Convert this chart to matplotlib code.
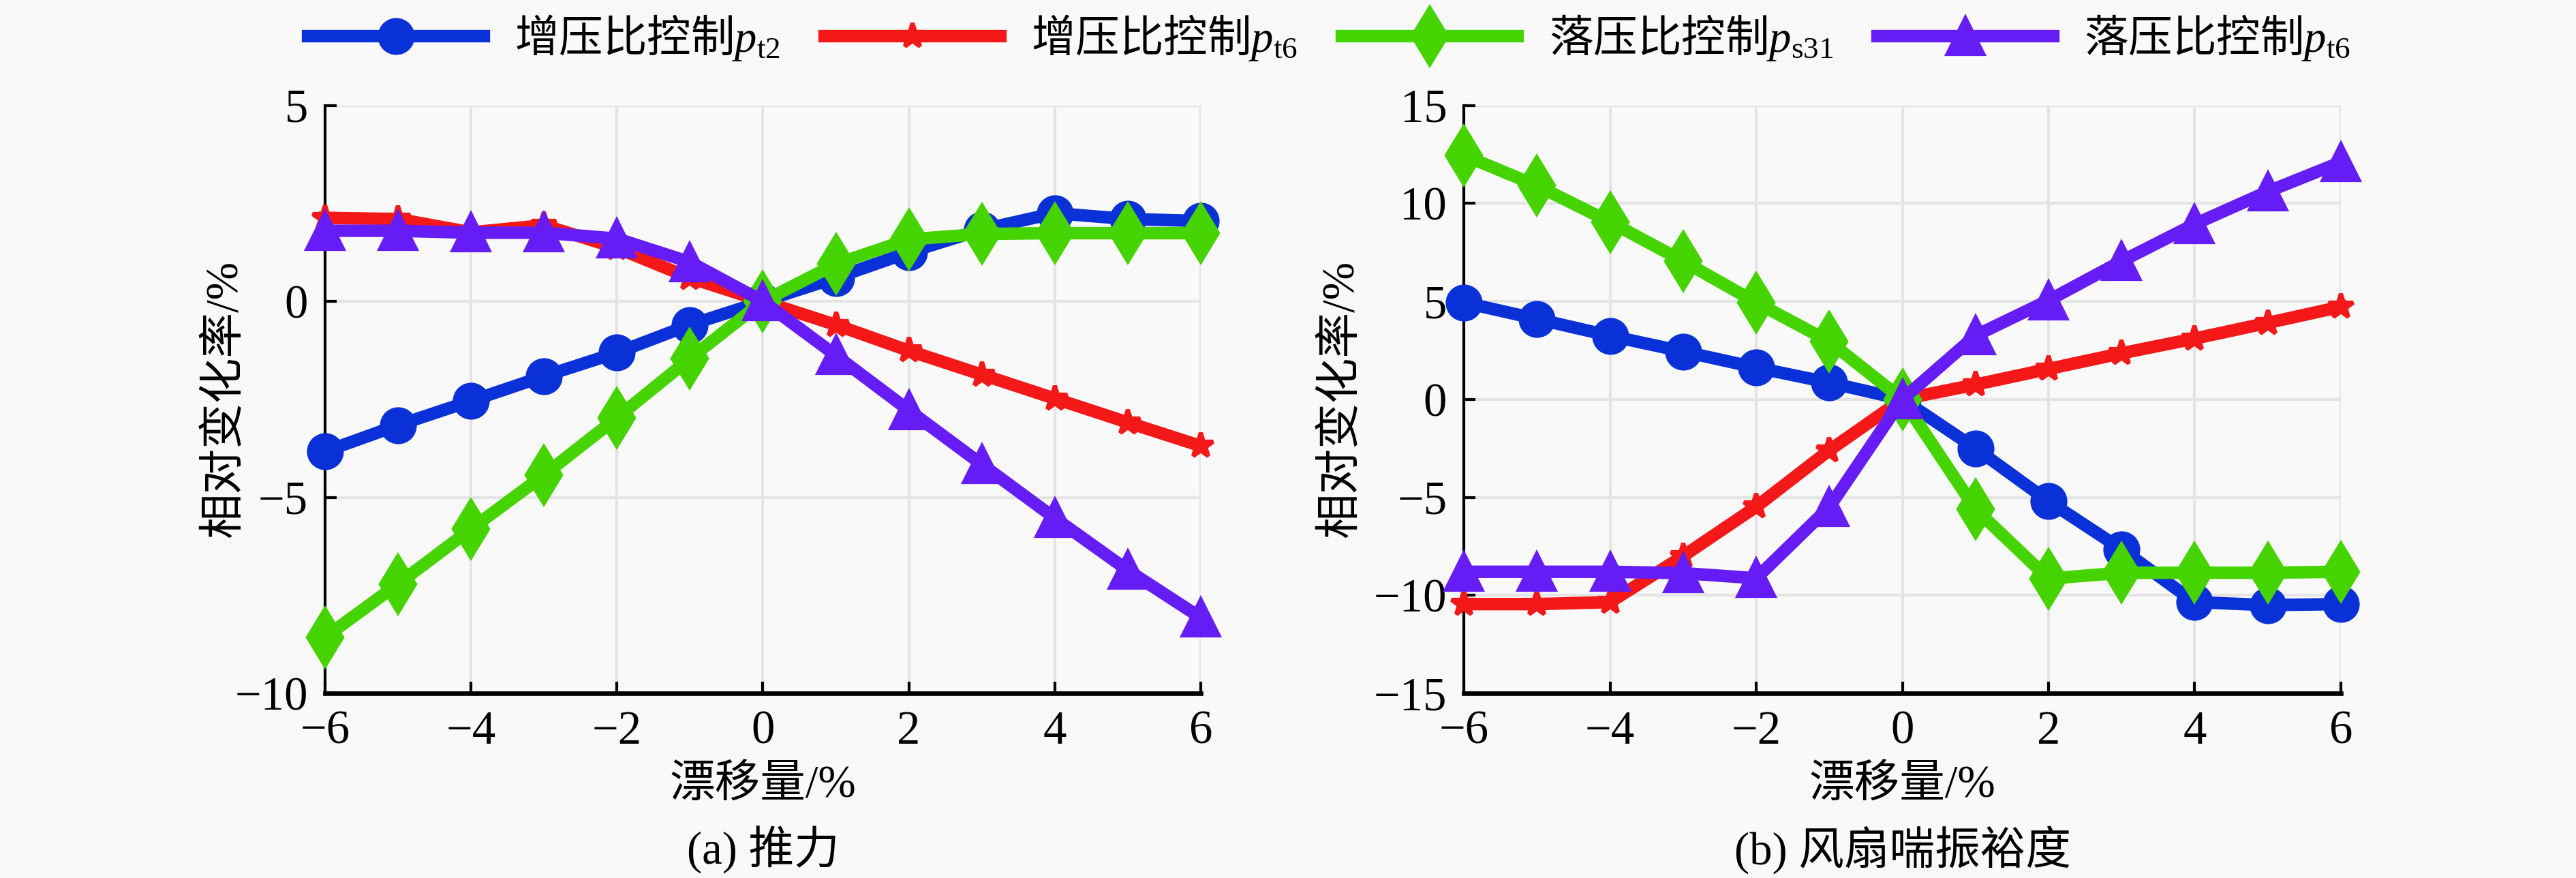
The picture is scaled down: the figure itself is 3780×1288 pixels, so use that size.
import matplotlib
matplotlib.use('Agg')
import matplotlib.pyplot as plt

plt.rcParams['font.family'] = ['Liberation Serif', 'Noto Sans CJK SC']
plt.rcParams['mathtext.fontset'] = 'custom'
plt.rcParams['mathtext.rm'] = 'Liberation Serif'
plt.rcParams['mathtext.it'] = 'Liberation Serif:italic'
plt.rcParams['axes.unicode_minus'] = True

# 数据
drift = [-6, -5, -4, -3, -2, -1, 0, 1, 2, 3, 4, 5, 6]

labels = [r'增压比控制$p_{\rm t2}$', r'增压比控制$p_{\rm t6}$',
          r'落压比控制$p_{\rm s31}$', r'落压比控制$p_{\rm t6}$']

# (a) 推力
thrust_pt2 = [-3.83, -3.16, -2.54, -1.91, -1.31, -0.6, 0, 0.6, 1.25, 1.83, 2.25, 2.1, 2.05]
thrust_pt6 = [2.13, 2.1, 1.76, 1.94, 1.36, 0.6, 0, -0.6, -1.26, -1.87, -2.48, -3.09, -3.69]
thrust_ps31 = [-8.57, -7.21, -5.81, -4.43, -2.97, -1.46, 0, 0.95, 1.58, 1.72, 1.74, 1.74, 1.74]
thrust_pt6d = [1.8, 1.8, 1.75, 1.75, 1.6, 1.0, 0, -1.38, -2.78, -4.16, -5.53, -6.86, -8.07]

# (b) 风扇喘振裕度
surge_pt2 = [4.94, 4.1, 3.24, 2.44, 1.62, 0.85, 0, -2.5, -5.2, -7.65, -10.35, -10.5, -10.45]
surge_pt6 = [-10.45, -10.45, -10.35, -8.0, -5.48, -2.6, 0, 0.75, 1.55, 2.35, 3.1, 3.9, 4.72]
surge_ps31 = [12.45, 10.9, 9.05, 7.05, 4.94, 2.95, 0, -5.6, -9.15, -8.85, -8.85, -8.85, -8.8]
surge_pt6d = [-8.8, -8.8, -8.8, -8.87, -9.13, -5.5, 0, 3.25, 5.05, 7.05, 8.94, 10.6, 12.1]

colors = ['#0a30d8', '#f41818', '#46d400', '#661cf4']
markers = ['o', '*', 'd', '^']
msizes = [11.5, 9, 14, 12.5]

bg = '#f9f9f9'
fs = 16.5
fig = plt.figure(figsize=(12.6, 1288 / 300), dpi=300, facecolor=bg)

ax1 = fig.add_axes([0.1262, 0.2104, 0.3399, 0.6696])
ax2 = fig.add_axes([0.5683, 0.2104, 0.3404, 0.6696])


def draw(ax, series, ylim, yticks, caption, ypad):
    ax.set_facecolor(bg)
    handles = []
    for ys, c, m, ms, lab in zip(series, colors, markers, msizes, labels):
        h, = ax.plot(drift, ys, color=c, lw=4.4, marker=m, markersize=ms,
                     markerfacecolor=c, markeredgecolor=c, markeredgewidth=1.5,
                     label=lab, clip_on=False, zorder=3)
        handles.append(h)
    ax.set_xlim(-6, 6)
    ax.set_ylim(*ylim)
    ax.set_xticks(range(-6, 7, 2))
    ax.set_yticks(yticks)
    ax.grid(True, color='#e4e4e4', lw=1.0)
    ax.set_axisbelow(True)
    for s in ['top', 'right']:
        ax.spines[s].set_visible(False)
    ax.spines['left'].set_linewidth(1.0)
    ax.spines['bottom'].set_linewidth(1.6)
    ax.tick_params(direction='in', length=4, width=1.0, labelsize=fs, pad=6)
    ax.set_xlabel('漂移量/%', fontsize=fs - 0.5, labelpad=4)
    ax.set_ylabel('相对变化率/%', fontsize=fs - 0.5, labelpad=ypad)
    ax.text(0.5, -0.267, caption, transform=ax.transAxes, ha='center', va='center',
            fontsize=fs - 0.5)
    return handles


hs = draw(ax1, [thrust_pt2, thrust_pt6, thrust_ps31, thrust_pt6d], (-10, 5),
          [-10, -5, 0, 5], '(a) 推力', -4)
draw(ax2, [surge_pt2, surge_pt6, surge_ps31, surge_pt6d], (-15, 15),
     [-15, -10, -5, 0, 5, 10, 15], '(b) 风扇喘振裕度', 4)

fig.legend(handles=hs, loc='center', bbox_to_anchor=(0.516, 0.957), ncol=4,
           frameon=False, prop={'family': 'Noto Sans CJK SC', 'size': 15.5},
           handlelength=4.0, handletextpad=0.7, columnspacing=1.0)

fig.savefig('out.png', dpi=300, facecolor=bg)
